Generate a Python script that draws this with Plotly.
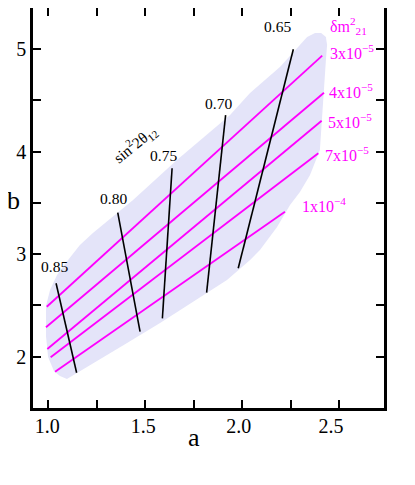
import plotly.graph_objects as go

# ---- data (a on x, b on y) ----
# shaded allowed region (boundary polygon)
region_a = [1.096, 1.060, 1.029, 0.999, 0.988, 0.988, 1.009, 1.045, 1.102, 1.163,
            1.230, 1.437, 1.663, 1.937, 2.040, 2.194, 2.297, 2.334, 2.375, 2.406,
            2.431, 2.437, 2.431, 2.416, 2.400, 2.349, 2.297, 2.246, 2.179, 2.091,
            2.040, 1.921, 1.746, 1.576, 1.406, 1.230]
region_b = [1.783, 1.812, 1.861, 1.997, 2.202, 2.494, 2.650, 2.797, 2.943, 3.089,
            3.206, 3.528, 3.918, 4.356, 4.571, 4.824, 5.039, 5.117, 5.156, 5.156,
            5.117, 5.039, 4.893, 4.503, 4.015, 3.771, 3.606, 3.479, 3.265, 3.040,
            2.943, 2.748, 2.533, 2.329, 2.134, 1.939]

# delta m^2_21 contours (magenta)
dm_labels = ["3x10<sup>−5</sup>", "4x10<sup>−5</sup>", "5x10<sup>−5</sup>",
             "7x10<sup>−5</sup>", "1x10<sup>−4</sup>"]
dm_a_start = [0.992, 0.988, 0.995, 1.012, 1.035]
dm_b_start = [2.487, 2.287, 2.075, 1.994, 1.854]
dm_a_end = [2.412, 2.421, 2.409, 2.392, 2.220]
dm_b_end = [4.935, 4.574, 4.301, 3.983, 3.414]
dm_label_a = [2.442, 2.437, 2.431, 2.416, 2.297]
dm_label_b = [4.971, 4.590, 4.298, 3.981, 3.479]

# sin^2 2theta_12 contours (black)
s_labels = ["0.85", "0.80", "0.75", "0.70", "0.65"]
s_a_top = [1.040, 1.358, 1.638, 1.914, 2.263]
s_b_top = [2.716, 3.404, 3.837, 4.356, 4.997]
s_a_bot = [1.146, 1.473, 1.588, 1.816, 1.979]
s_b_bot = [1.844, 2.244, 2.374, 2.624, 2.862]
s_label_a = [1.031, 1.334, 1.596, 1.877, 2.182]
s_label_b = [2.877, 3.538, 3.957, 4.469, 5.217]

# tick marks and tick labels
x_tickvals = [1.0, 1.25, 1.5, 1.75, 2.0, 2.25, 2.5]
x_labelvals = [0.994, 1.490, 1.982, 2.457]      # where the labels sit
x_labeltext = ["1.0", "1.5", "2.0", "2.5"]
y_tickvals = [2.0, 2.5, 3.0, 3.5, 4.0, 4.5, 5.0]
y_ticktext = ["2", "", "3", "", "4", "", "5"]

X_RANGE = [0.9211, 2.7304]
Y_RANGE = [1.4999, 5.3997]

FONT = "Liberation Serif, Times New Roman, Times, serif"
MAG = "#ff00ff"

fig = go.Figure()

fig.add_trace(go.Scatter(
    x=region_a + [region_a[0]], y=region_b + [region_b[0]],
    mode="lines", fill="toself", fillcolor="#e4e4f9",
    line=dict(width=0, color="#e4e4f9"), hoverinfo="skip"))

for i in range(len(dm_labels)):
    fig.add_trace(go.Scatter(
        x=[dm_a_start[i], dm_a_end[i]], y=[dm_b_start[i], dm_b_end[i]],
        mode="lines", line=dict(color=MAG, width=1.8), hoverinfo="skip"))
    fig.add_annotation(x=dm_label_a[i], y=dm_label_b[i], text=dm_labels[i],
                       showarrow=False, xanchor="left", yanchor="middle",
                       font=dict(family=FONT, size=16, color=MAG))

for i in range(len(s_labels)):
    fig.add_trace(go.Scatter(
        x=[s_a_top[i], s_a_bot[i]], y=[s_b_top[i], s_b_bot[i]],
        mode="lines", line=dict(color="black", width=1.6), hoverinfo="skip"))
    fig.add_annotation(x=s_label_a[i], y=s_label_b[i], text=s_labels[i],
                       showarrow=False, xanchor="center", yanchor="middle",
                       font=dict(family=FONT, size=15.5, color="black"))

# dummy traces so the extra axes (top/right mirror ticks, bottom labels) are drawn
fig.add_trace(go.Scatter(x=[None], y=[None], xaxis="x2", yaxis="y2",
                         mode="lines", hoverinfo="skip"))
fig.add_trace(go.Scatter(x=[None], y=[None], xaxis="x3", yaxis="y",
                         mode="lines", hoverinfo="skip"))

fig.add_annotation(x=1.447, y=4.074, text="sin<sup>2</sup>2θ<sub>12</sub>",
                   showarrow=False, textangle=-39,
                   xanchor="center", yanchor="middle",
                   font=dict(family=FONT, size=15.5, color="black"))
fig.add_annotation(x=2.545, y=5.224, text="δm<sup>2</sup><sub>21</sub>",
                   showarrow=False, xanchor="center", yanchor="middle",
                   font=dict(family=FONT, size=16, color=MAG))

# axis titles
fig.add_annotation(xref="paper", yref="paper", x=-0.056, y=0.52, text="b",
                   showarrow=False, xanchor="center", yanchor="middle",
                   font=dict(family=FONT, size=26, color="black"))
fig.add_annotation(xref="paper", yref="paper", x=0.459, y=-0.074, text="a",
                   showarrow=False, xanchor="center", yanchor="middle",
                   font=dict(family=FONT, size=26, color="black"))

tick_common = dict(showgrid=False, zeroline=False, ticklen=8,
                   tickwidth=1.8, tickcolor="black",
                   tickfont=dict(family=FONT, size=20, color="black"))

fig.update_layout(
    width=407, height=477, showlegend=False,
    margin=dict(l=25, r=31, t=0, b=77),
    plot_bgcolor="white", paper_bgcolor="white",
    font=dict(family=FONT),
    xaxis=dict(range=X_RANGE, tickmode="array", tickvals=x_tickvals,
               showticklabels=False, ticks="inside", showline=True,
               linecolor="black", linewidth=2.5, **tick_common),
    xaxis3=dict(range=X_RANGE, overlaying="x", side="bottom", anchor="y",
                tickmode="array", tickvals=x_labelvals, ticktext=x_labeltext,
                ticks="", showline=False, ticklabelstandoff=4, **tick_common),
    yaxis=dict(range=Y_RANGE, tickmode="array", tickvals=y_tickvals,
               ticktext=y_ticktext, ticks="inside", showline=True,
               linecolor="black", linewidth=2.5, **tick_common),
    xaxis2=dict(range=X_RANGE, overlaying="x", side="top", anchor="y",
                tickmode="array", tickvals=x_tickvals, showticklabels=False,
                ticks="inside", showline=False, **tick_common),
    yaxis2=dict(range=Y_RANGE, overlaying="y", side="right", anchor="x",
                tickmode="array", tickvals=y_tickvals, showticklabels=False,
                ticks="inside", showline=True, linecolor="black",
                linewidth=2.5, **tick_common),
)

fig.write_html("out.html")
